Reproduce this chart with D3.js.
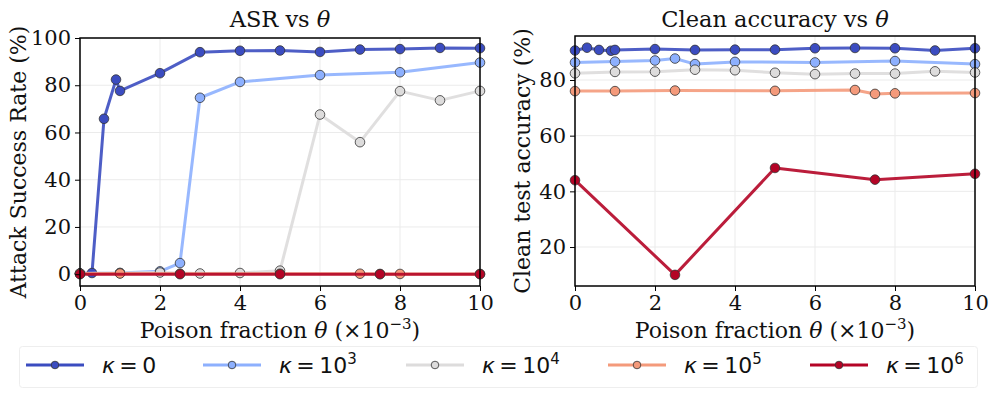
<!DOCTYPE html>
<html><head><meta charset="utf-8">
<script src="https://cdn.jsdelivr.net/npm/d3@7"></script>
<style>body{margin:0;background:#fff;} svg{display:block;}</style>
</head><body>
<svg id="c" width="997" height="397"></svg>
<script>
// ---- data ----
const kappaLabels = ["0", "3", "4", "5", "6"];
const colors = ["#3b4cc0", "#8db0fe", "#dddcdc", "#f49a7b", "#b40426"];

const xK0 = [0, 0.3, 0.6, 0.9, 1, 2, 3, 4, 5, 6, 7, 8, 9, 10];
const asrK0 = [0.3, 0.5, 65.8, 82.4, 77.6, 85.1, 94.0, 94.6, 94.7, 94.1, 95.1, 95.3, 95.8, 95.7];
const accK0 = [90.6, 91.6, 90.8, 90.5, 90.8, 91.1, 90.8, 90.9, 90.9, 91.4, 91.5, 91.4, 90.6, 91.4];

const xK3 = [0, 1, 2, 2.5, 3, 4, 6, 8, 10];
const asrK3 = [0.3, 0.5, 1.2, 4.7, 74.7, 81.4, 84.3, 85.5, 89.6];
const accK3 = [86.3, 86.6, 87.0, 87.7, 85.7, 86.5, 86.3, 86.8, 85.7];

const xK4 = [0, 1, 2, 3, 4, 5, 6, 7, 8, 9, 10];
const asrK4 = [0.3, 0.5, 0.7, 0.3, 0.5, 1.5, 67.6, 55.9, 77.5, 73.6, 77.6];
const accK4 = [82.4, 82.9, 83.0, 83.7, 83.5, 82.6, 82.1, 82.3, 82.3, 83.1, 82.7];

const xK5 = [0, 1, 2.5, 5, 7, 7.5, 8, 10];
const asrK5 = [0.2, 0.3, 0.2, 0.2, 0.2, 0.1, 0.1, 0.1];
const accK5 = [76.0, 76.0, 76.2, 76.1, 76.4, 75.0, 75.2, 75.3];

const xK6 = [0, 2.5, 5, 7.5, 10];
const asrK6 = [0.0, 0.0, 0.0, 0.0, 0.0];
const accK6 = [44.0, 10.0, 48.4, 44.2, 46.3];

const xTicks = [0, 2, 4, 6, 8, 10];
const asrTicks = [0, 20, 40, 60, 80, 100];
const accTicks = [20, 40, 60, 80];

const seriesX = [xK0, xK3, xK4, xK5, xK6];
const seriesAsr = [asrK0, asrK3, asrK4, asrK5, asrK6];
const seriesAcc = [accK0, accK3, accK4, accK5, accK6];

// ---- drawing ----
const svg = d3.select("#c");
const serif = "'DejaVu Serif', serif";
const sans = "'DejaVu Sans', sans-serif";

function panel(left, right, top, bottom, yDomain, yTicks, seriesY, title, ylabel, ylabelX) {
  const x = d3.scaleLinear().domain([0, 10]).range([left, right]);
  const y = d3.scaleLinear().domain(yDomain).range([bottom, top]);
  const g = svg.append("g");
  // grid
  g.selectAll(".gx").data(xTicks).enter().append("line")
    .attr("x1", d => x(d)).attr("x2", d => x(d)).attr("y1", top).attr("y2", bottom)
    .attr("stroke", "#ebebeb").attr("stroke-width", 1);
  g.selectAll(".gy").data(yTicks).enter().append("line")
    .attr("y1", d => y(d)).attr("y2", d => y(d)).attr("x1", left).attr("x2", right)
    .attr("stroke", "#ebebeb").attr("stroke-width", 1);
  // series
  const clipId = "clip" + Math.round(left);
  svg.append("clipPath").attr("id", clipId).append("rect")
    .attr("x", left - 6).attr("y", top - 6).attr("width", right - left + 12).attr("height", bottom - top + 6);
  const sg = g.append("g").attr("clip-path", `url(#${clipId})`);
  for (let i = 0; i < seriesX.length; i++) {
    const pts = seriesX[i].map((xv, j) => [xv, seriesY[i][j]]);
    sg.append("path").datum(pts)
      .attr("d", d3.line().x(d => x(d[0])).y(d => y(d[1])))
      .attr("fill", "none").attr("stroke", colors[i]).attr("stroke-width", 3)
      .attr("stroke-opacity", 0.9).attr("stroke-linejoin", "round");
    sg.selectAll(null).data(pts).enter().append("circle")
      .attr("cx", d => x(d[0])).attr("cy", d => y(d[1])).attr("r", 4.8)
      .attr("fill", colors[i]).attr("stroke", "#333").attr("stroke-width", 0.8);
  }
  // axes
  const ax = g.append("g").attr("transform", `translate(0,${bottom})`)
    .call(d3.axisBottom(x).tickValues(xTicks).tickSize(5).tickPadding(4).tickFormat(d3.format("d")));
  const ay = g.append("g").attr("transform", `translate(${left},0)`)
    .call(d3.axisLeft(y).tickValues(yTicks).tickSize(5).tickPadding(4).tickFormat(d3.format("d")));
  [ax, ay].forEach(a => {
    a.select(".domain").remove();
    a.selectAll("line").attr("stroke", "#000").attr("stroke-width", 1);
    a.selectAll("text").attr("font-family", serif).attr("font-size", 21).attr("fill", "#111");
  });
  // frame
  g.append("rect").attr("x", left).attr("y", top).attr("width", right - left).attr("height", bottom - top)
    .attr("fill", "none").attr("stroke", "#000").attr("stroke-width", 1.5);
  // title
  const t = g.append("text").attr("x", (left + right) / 2).attr("y", 27).attr("text-anchor", "middle")
    .attr("font-family", serif).attr("font-size", 22.5).attr("fill", "#111");
  t.append("tspan").text(title + " ");
  t.append("tspan").attr("font-style", "italic").text("θ");
  // xlabel
  const xl = g.append("text").attr("x", (left + right) / 2).attr("y", 338).attr("text-anchor", "middle")
    .attr("font-family", serif).attr("font-size", 22).attr("fill", "#111");
  xl.append("tspan").text("Poison fraction ");
  xl.append("tspan").attr("font-style", "italic").text("θ");
  xl.append("tspan").text(" (×10");
  xl.append("tspan").attr("font-size", 15).attr("dy", -9).text("−3");
  xl.append("tspan").attr("dy", 9).text(")");
  // ylabel
  g.append("text").attr("transform", `translate(${ylabelX},${(top + bottom) / 2}) rotate(-90)`)
    .attr("text-anchor", "middle").attr("font-family", serif).attr("font-size", 22).attr("fill", "#111")
    .text(ylabel);
}

panel(80, 480, 38, 286, [-5, 100], asrTicks, seriesAsr, "ASR vs", "Attack Success Rate (%)", 26);
panel(575, 975, 36, 286, [6.0, 95.8], accTicks, seriesAcc, "Clean accuracy vs", "Clean test accuracy (%)", 530);

// legend
const lg = svg.append("g");
lg.append("rect").attr("x", 19.5).attr("y", 346.5).attr("width", 958).attr("height", 41).attr("rx", 3)
  .attr("fill", "#fff").attr("stroke", "#eee").attr("stroke-width", 1);
const handleX = [26, 203, 406, 608, 810];
const ly = 365;
kappaLabels.forEach((lab, i) => {
  const hx = handleX[i];
  lg.append("line").attr("x1", hx).attr("x2", hx + 58).attr("y1", ly).attr("y2", ly)
    .attr("stroke", colors[i]).attr("stroke-width", 3);
  lg.append("circle").attr("cx", hx + 29).attr("cy", ly).attr("r", 3.8)
    .attr("fill", colors[i]).attr("stroke", "#333").attr("stroke-width", 0.8);
  const t = lg.append("text").attr("x", hx + 76).attr("y", ly + 8).attr("font-family", sans)
    .attr("font-size", 22).attr("fill", "#111");
  t.append("tspan").attr("font-style", "italic").text("κ");
  t.append("tspan").text(i === 0 ? "\u2009=\u20090" : "\u2009=\u200910");
  if (i > 0) t.append("tspan").attr("font-size", 15).attr("dy", -9).text(lab);
});
</script>
</body></html>
